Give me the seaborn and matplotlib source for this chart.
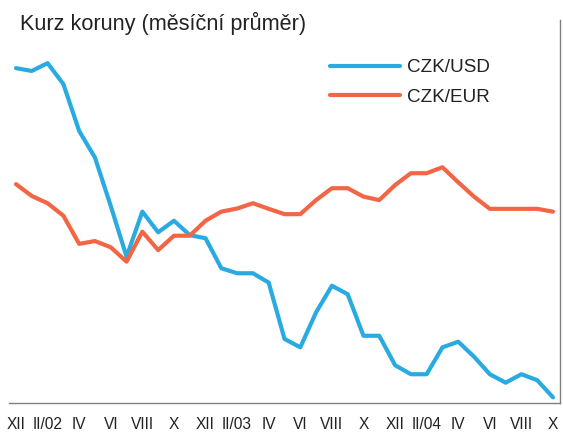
import matplotlib
matplotlib.use("Agg")
import matplotlib.pyplot as plt
import seaborn as sns
import pandas as pd

# Monthly labels, XII/2001 .. X/2004 (ticks every second month)
months = ["XII", "I/02", "II/02", "III", "IV", "V", "VI", "VII", "VIII", "IX", "X", "XI",
          "XII", "I/03", "II/03", "III", "IV", "V", "VI", "VII", "VIII", "IX", "X", "XI",
          "XII", "I/04", "II/04", "III", "IV", "V", "VI", "VII", "VIII", "IX", "X"]

czk_usd = [35.79, 35.70, 35.95, 35.28, 33.78, 32.93, 31.38, 29.76, 31.20, 30.54,
           30.91, 30.45, 30.35, 29.39, 29.23, 29.23, 28.93, 27.13, 26.86, 27.98,
           28.83, 28.56, 27.23, 27.23, 26.29, 26.00, 26.00, 26.86, 27.04, 26.56,
           26.00, 25.73, 26.00, 25.81, 25.26]

czk_eur = [32.08, 31.70, 31.47, 31.07, 30.17, 30.26, 30.06, 29.60, 30.56, 29.97,
           30.43, 30.43, 30.91, 31.20, 31.30, 31.47, 31.29, 31.12, 31.12, 31.57,
           31.95, 31.95, 31.68, 31.57, 32.05, 32.43, 32.43, 32.62, 32.14, 31.68,
           31.29, 31.29, 31.29, 31.29, 31.20]

series_names = ["CZK/USD", "CZK/EUR"]
series_colors = ["#29abe2", "#f26645"]

sns.set_style("white")
plt.rcParams["font.family"] = ["Liberation Sans", "DejaVu Sans"]

n = len(months)
df = pd.DataFrame({
    "idx": list(range(n)) * 2,
    "kurz": czk_usd + czk_eur,
    "mena": [series_names[0]] * n + [series_names[1]] * n,
})

fig = plt.figure(figsize=(5.63, 4.32), dpi=100)
ax = fig.add_axes([9 / 563, 29 / 432, 551 / 563, 383 / 432])

sns.lineplot(data=df, x="idx", y="kurz", hue="mena", hue_order=series_names,
             palette=series_colors, linewidth=3, ax=ax, legend=True)

ax.set_xlim(-0.443, 34.443)
ax.set_ylim(25.08, 37.33)

tick_pos = list(range(0, n, 2))
ax.set_xticks(tick_pos)
ax.set_xticklabels([months[i] for i in tick_pos], fontsize=11.2, color="#222222")
ax.tick_params(axis="x", length=0, pad=10)
ax.set_yticks([])
ax.set_xlabel("")
ax.set_ylabel("")

for side in ["left", "top"]:
    ax.spines[side].set_visible(False)
for side in ["bottom", "right"]:
    ax.spines[side].set_visible(True)
    ax.spines[side].set_color("#808080")
    ax.spines[side].set_linewidth(1.0)

leg = ax.legend(loc="upper left", bbox_to_anchor=((330 - 9) / 551, (403 - 59) / 383),
                frameon=False, fontsize=13.6, handlelength=3.7, handletextpad=0.37,
                labelspacing=0.64, borderpad=0, borderaxespad=0)
for t in leg.get_texts():
    t.set_color("#222222")
for h in leg.get_lines():
    h.set_linewidth(3)

fig.text(20 / 563, 1 - 23 / 432, "Kurz koruny (měsíční průměr)", fontsize=15.6,
         color="#222222", va="center", ha="left")

fig.savefig("out.png", dpi=100)
